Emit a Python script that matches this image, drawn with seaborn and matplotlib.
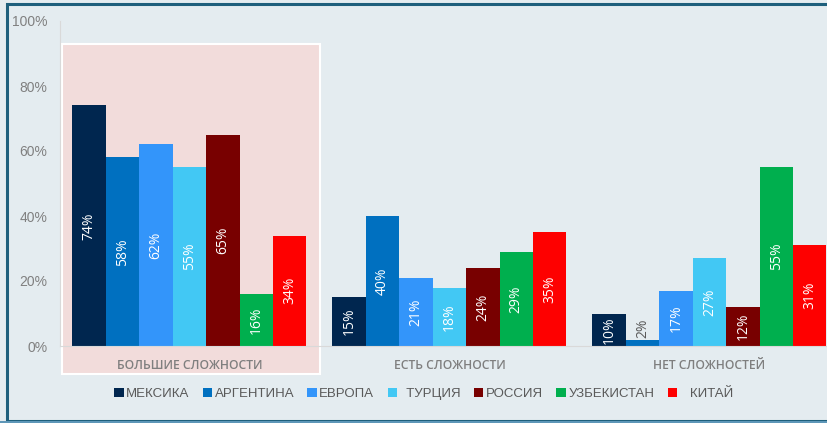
import pandas as pd
import matplotlib
matplotlib.use('Agg')
from matplotlib import pyplot as plt
from matplotlib.patches import Rectangle
import seaborn as sns

# dane (w %)
grupy = ['БОЛЬШИЕ СЛОЖНОСТИ', 'ЕСТЬ СЛОЖНОСТИ', 'НЕТ СЛОЖНОСТЕЙ']
kraje = ['МЕКСИКА', 'АРГЕНТИНА', 'ЕВРОПА', 'ТУРЦИЯ', 'РОССИЯ', 'УЗБЕКИСТАН', 'КИТАЙ']
# podpisy w legendzie (w oryginale niektore maja wiodace spacje)
legenda = ['МЕКСИКА', 'АРГЕНТИНА', 'ЕВРОПА', '  ТУРЦИЯ', 'РОССИЯ', 'УЗБЕКИСТАН', '   КИТАЙ']
kolory = ['#00264F', '#0070C0', '#3395FA', '#42C8F4', '#780000', '#00AF4E', '#FE0000']

bolshie = [74, 58, 62, 55, 65, 16, 34]
est = [15, 40, 21, 18, 24, 29, 35]
net = [10, 2, 17, 27, 12, 55, 31]

y_ticks = [0, 20, 40, 60, 80, 100]

wiersze = []
for g, vals in zip(grupy, [bolshie, est, net]):
    for k, v in zip(kraje, vals):
        wiersze.append({'grupa': g, 'kraj': k, 'wartosc': v})
dane = pd.DataFrame(wiersze)

sns.set_style('white')
plt.rcParams['font.family'] = ['Open Sans', 'DejaVu Sans']
waski = ['Liberation Sans Narrow', 'Liberation Sans', 'DejaVu Sans']

tlo = '#E4ECF0'
fig = plt.figure(figsize=(8.28, 4.23), dpi=100, facecolor=tlo)
W, H = 828, 423

# ramka wokol wykresu
fig.add_artist(Rectangle((7.5 / W, 1 - 421 / H), 1.0, (421 - 4) / H, transform=fig.transFigure,
                         facecolor='none', edgecolor='#1E5F7C', lw=2.2, zorder=-2))
fig.add_artist(Rectangle((0, 1 - 422.5 / H), 1.0, 0.004, transform=fig.transFigure,
                         facecolor='#5E97B8', edgecolor='none', zorder=-2))

# rozowe tlo pierwszej grupy
fig.add_artist(Rectangle((62 / W, 1 - 374 / H), 258 / W, 330 / H, transform=fig.transFigure,
                         facecolor='#F2DCDB', edgecolor='white', lw=1.5, zorder=-1))

ax = fig.add_axes([60 / W, 77 / H, (828 - 60) / W, 325 / H])
ax.set_zorder(1)
ax.patch.set_alpha(0)

sns.barplot(data=dane, x='grupa', y='wartosc', hue='kraj', hue_order=kraje, order=grupy,
            palette=kolory, width=0.9, saturation=1, linewidth=0, ax=ax)

ax.set_xlim(-0.498, 2.456)
ax.set_ylim(0, 100)
ax.set_yticks(y_ticks)
ax.set_yticklabels([f'{t}%' for t in y_ticks], color='#808080', fontsize=10, family=waski)
ax.set_xticks(range(3))
ax.set_xticklabels(grupy, color='#7F7F7F', fontsize=8.7, fontweight='semibold')
ax.tick_params(axis='both', length=0)
ax.tick_params(axis='y', pad=9)
ax.tick_params(axis='x', pad=9)
ax.set_xlabel('')
ax.set_ylabel('')
for s in ['top', 'right']:
    ax.spines[s].set_visible(False)
ax.spines['left'].set_color('#D9D9D9')
ax.spines['bottom'].set_color('#D9D9D9')
ax.spines['left'].set_linewidth(0.8)
ax.spines['bottom'].set_linewidth(0.8)

# etykiety slupkow
for cont in ax.containers:
    for bar in cont:
        h = bar.get_height()
        x = bar.get_x() + bar.get_width() / 2
        if h < 5:
            ax.text(x, h + 0.5, f'{h:.0f}%', rotation=90, ha='center', va='bottom',
                    color='#595959', fontsize=10)
        else:
            ax.text(x, h / 2, f'{h:.0f}%', rotation=90, ha='center', va='center',
                    color='white', fontsize=10)

handles, labels = ax.get_legend_handles_labels()
ax.get_legend().remove()
fig.legend(handles, legenda, loc='center', bbox_to_anchor=(424 / W, 1 - 394 / H), ncol=7,
           frameon=False, handlelength=0.7, handleheight=0.7, handletextpad=0.2,
           columnspacing=1.0, prop={'family': waski, 'size': 9.5},
           labelcolor='#595959')

fig.savefig('out.png', dpi=100, facecolor=tlo)
